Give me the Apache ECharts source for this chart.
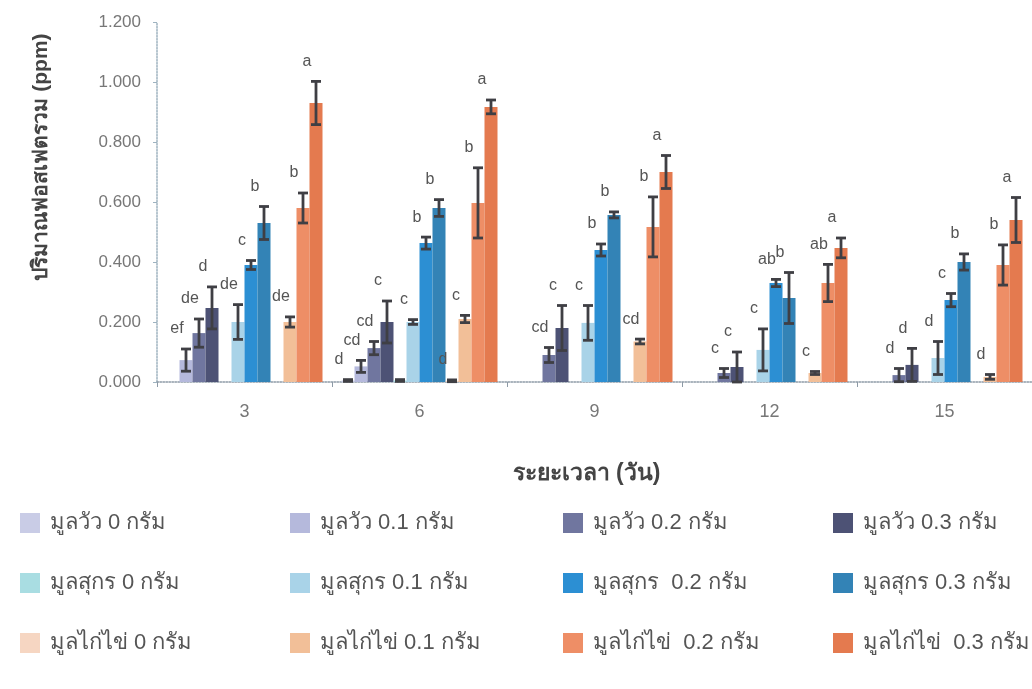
<!DOCTYPE html>
<html>
<head>
<meta charset="utf-8">
<script src="https://cdn.jsdelivr.net/npm/echarts@6/dist/echarts.min.js"></script>
<style>
html,body{margin:0;padding:0;background:#fff;}
#c{width:1032px;height:689px;}
</style>
</head>
<body>
<div id="c"></div>
<script>
// ---- data ----
var categories = ['3', '6', '9', '12', '15'];
var yTicks = ['0.000', '0.200', '0.400', '0.600', '0.800', '1.000', '1.200'];
var seriesNames = [
  'มูลวัว 0 กรัม', 'มูลวัว 0.1 กรัม', 'มูลวัว 0.2 กรัม', 'มูลวัว 0.3 กรัม',
  'มูลสุกร 0 กรัม', 'มูลสุกร 0.1 กรัม', 'มูลสุกร  0.2 กรัม', 'มูลสุกร 0.3 กรัม',
  'มูลไก่ไข่ 0 กรัม', 'มูลไก่ไข่ 0.1 กรัม', 'มูลไก่ไข่  0.2 กรัม', 'มูลไก่ไข่  0.3 กรัม'
];
var cow0    = [0, 0.005, 0, 0, 0];
var cow01   = [0.073, 0.052, 0, 0, 0];
var cow02   = [0.163, 0.113, 0.09, 0.03, 0.023];
var cow03   = [0.247, 0.2, 0.18, 0.05, 0.057];
var pig0    = [0, 0.005, 0, 0, 0];
var pig01   = [0.2, 0.2, 0.197, 0.107, 0.08];
var pig02   = [0.39, 0.463, 0.44, 0.33, 0.273];
var pig03   = [0.53, 0.58, 0.557, 0.28, 0.4];
var chick0  = [0, 0.004, 0, 0, 0];
var chick01 = [0.2, 0.21, 0.135, 0.03, 0.017];
var chick02 = [0.58, 0.597, 0.517, 0.33, 0.39];
var chick03 = [0.93, 0.917, 0.70, 0.447, 0.54];

var cow0Err    = [0, 0.003, 0, 0, 0];
var cow01Err   = [0.037, 0.02, 0, 0, 0];
var cow02Err   = [0.047, 0.022, 0.025, 0.015, 0.022];
var cow03Err   = [0.07, 0.07, 0.075, 0.05, 0.055];
var pig0Err    = [0, 0.003, 0, 0, 0];
var pig01Err   = [0.058, 0.008, 0.058, 0.07, 0.055];
var pig02Err   = [0.015, 0.02, 0.02, 0.012, 0.022];
var pig03Err   = [0.055, 0.028, 0.01, 0.085, 0.027];
var chick0Err  = [0, 0.003, 0, 0, 0];
var chick01Err = [0.017, 0.012, 0.008, 0.005, 0.008];
var chick02Err = [0.05, 0.117, 0.1, 0.062, 0.067];
var chick03Err = [0.072, 0.023, 0.055, 0.033, 0.075];

var cow0Lbl    = ['', 'd', '', '', ''];
var cow01Lbl   = ['ef', 'cd', '', '', ''];
var cow02Lbl   = ['de', 'cd', 'cd', 'c', 'd'];
var cow03Lbl   = ['d', 'c', 'c', 'c', 'd'];
var pig0Lbl    = ['', '', '', '', ''];
var pig01Lbl   = ['de', 'c', 'c', 'c', 'd'];
var pig02Lbl   = ['c', 'b', 'b', 'ab', 'c'];
var pig03Lbl   = ['b', 'b', 'b', 'b', 'b'];
var chick0Lbl  = ['', 'd', '', '', ''];
var chick01Lbl = ['de', 'c', 'cd', 'c', 'd'];
var chick02Lbl = ['b', 'b', 'b', 'ab', 'b'];
var chick03Lbl = ['a', 'a', 'a', 'a', 'a'];

var colors = ['#c9cce6', '#b5b9dc', '#70769f', '#4d5275',
              '#a9dde2', '#a9d3e8', '#2c8fd3', '#3383b6',
              '#f6d6c2', '#f2bf98', '#ee8e66', '#e47a4f'];

var means  = [cow0, cow01, cow02, cow03, pig0, pig01, pig02, pig03, chick0, chick01, chick02, chick03];
var errs   = [cow0Err, cow01Err, cow02Err, cow03Err, pig0Err, pig01Err, pig02Err, pig03Err, chick0Err, chick01Err, chick02Err, chick03Err];
var labels = [cow0Lbl, cow01Lbl, cow02Lbl, cow03Lbl, pig0Lbl, pig01Lbl, pig02Lbl, pig03Lbl, chick0Lbl, chick01Lbl, chick02Lbl, chick03Lbl];

// ---- chart ----
var FONT = "'Liberation Sans', 'Noto Sans', 'DejaVu Sans', sans-serif";
var BAR_W = 13;
var chart = echarts.init(document.getElementById('c'), null, {renderer: 'canvas'});

var series = seriesNames.map(function (n, i) {
  return {
    name: n, type: 'bar', data: means[i], barWidth: BAR_W, barGap: '0%',
    itemStyle: {color: colors[i]}, z: 2
  };
});

var errData = [];
for (var s = 0; s < means.length; s++) {
  for (var c = 0; c < categories.length; c++) {
    errData.push([c, s, means[s][c], errs[s][c], labels[s][c]]);
  }
}

series.push({
  type: 'custom', name: 'err', z: 5, silent: true,
  data: errData,
  encode: {x: 0, y: 2},
  renderItem: function (params, api) {
    var ci = api.value(0), si = api.value(1), m = api.value(2), e = api.value(3);
    var lbl = errData[params.dataIndex][4];
    var base = api.coord([ci, m]);
    var x = base[0] + (si - 5.5) * BAR_W;
    var topY = api.coord([ci, m + e])[1];
    var botY = api.coord([ci, Math.max(m - e, 0)])[1];
    var children = [];
    var st = {stroke: '#3f3f44', lineWidth: 2.8};
    if (e > 0) {
      children.push({type: 'line', shape: {x1: x, y1: topY, x2: x, y2: botY}, style: st});
      children.push({type: 'line', shape: {x1: x - 5, y1: topY, x2: x + 5, y2: topY}, style: st});
      children.push({type: 'line', shape: {x1: x - 5, y1: botY, x2: x + 5, y2: botY}, style: st});
    }
    if (lbl) {
      children.push({type: 'text', style: {
        text: lbl, x: x - 9, y: topY - 20, align: 'center', verticalAlign: 'middle',
        fill: '#555', font: '16px ' + FONT
      }});
    }
    return {type: 'group', children: children};
  }
});

function legendCol(left, names) {
  return {
    orient: 'vertical', left: left, top: 512, itemGap: 38, padding: 0,
    itemWidth: 20, itemHeight: 20, icon: 'rect',
    data: names,
    textStyle: {fontSize: 22, lineHeight: 20, color: '#555', fontFamily: FONT, padding: [0, 0, 0, 5]},
    selectedMode: false
  };
}

var option = {
  backgroundColor: '#ffffff',
  animation: false,
  grid: {left: 157, right: 0, top: 22, bottom: 307, containLabel: false},
  legend: [
    legendCol(20, [seriesNames[0], seriesNames[4], seriesNames[8]]),
    legendCol(290, [seriesNames[1], seriesNames[5], seriesNames[9]]),
    legendCol(563, [seriesNames[2], seriesNames[6], seriesNames[10]]),
    legendCol(833, [seriesNames[3], seriesNames[7], seriesNames[11]])
  ],
  xAxis: {
    type: 'category', data: categories,
    name: 'ระยะเวลา (วัน)', nameLocation: 'middle', nameGap: 80,
    nameTextStyle: {fontSize: 23, fontWeight: 'bold', color: '#444', fontFamily: FONT, padding: [0, 16, 0, 0]},
    axisLine: {lineStyle: {color: '#8d9aa6', type: 'dotted', width: 1.5}},
    axisTick: {show: true, length: 5, lineStyle: {color: '#8d9aa6'}},
    axisLabel: {fontSize: 18, color: '#777', margin: 21, fontFamily: FONT}
  },
  yAxis: {
    type: 'value', min: 0, max: 1.2, interval: 0.2,
    name: 'ปริมาณฟอสเฟตรวม (ppm)', nameLocation: 'middle', nameGap: 105,
    nameTextStyle: {fontSize: 21, fontWeight: 'bold', color: '#444', fontFamily: FONT, padding: [0, 0, 0, 90]},
    axisLine: {show: true, lineStyle: {color: '#9fb3c0', type: 'dotted', width: 1.5}},
    axisTick: {show: true, length: 4, lineStyle: {color: '#9fb3c0'}},
    splitLine: {show: false},
    axisLabel: {
      fontSize: 17, color: '#777', margin: 16, fontFamily: FONT,
      formatter: function (v) { return yTicks[Math.round(v / 0.2)]; }
    }
  },
  series: series
};
chart.setOption(option);
</script>
</body>
</html>
